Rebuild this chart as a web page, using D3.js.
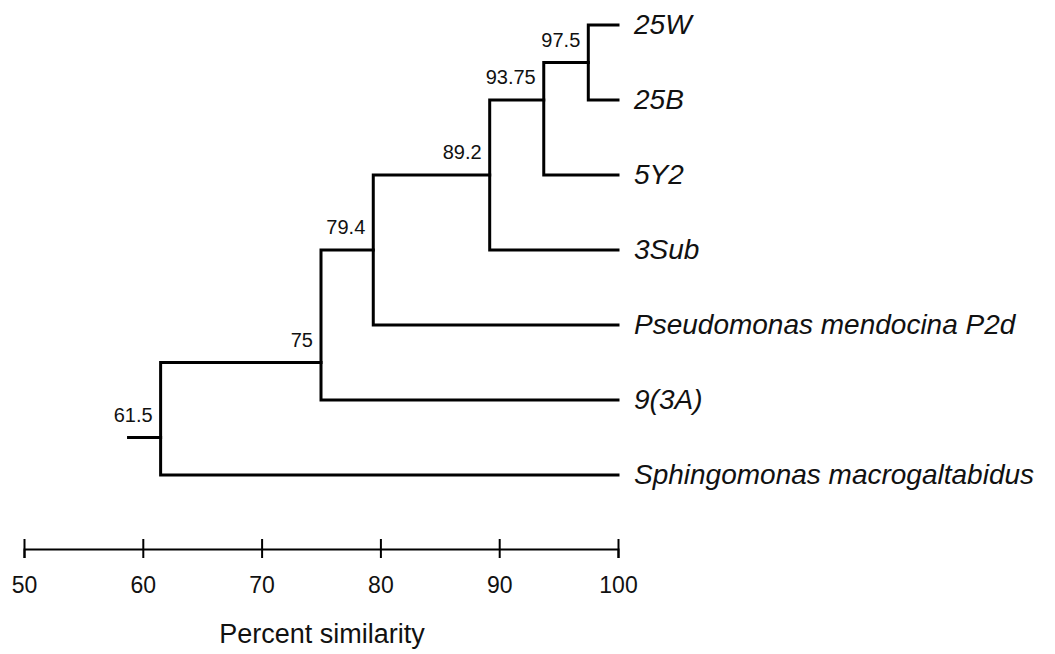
<!DOCTYPE html>
<html>
<head>
<meta charset="utf-8">
<script src="https://cdn.jsdelivr.net/npm/d3@7"></script>
<style>
  body { margin: 0; background: #fff; }
  text { font-family: Arial, "Liberation Sans", sans-serif; fill: #111; }
</style>
</head>
<body>
<div id="container"></div>
<script>
const width = 1055;
const height = 654;

// leaves, top to bottom
const leafNames = ["25W", "25B", "5Y2", "3Sub", "Pseudomonas mendocina P2d", "9(3A)", "Sphingomonas macrogaltabidus"];
// internal nodes: similarity, the two children ("L" leaf index / "N" node index), row where it joins its parent
const nodeSimilarity = [97.5, 93.75, 89.2, 79.4, 75, 61.5];
const nodeChildren = [["L0", "L1"], ["N0", "L2"], ["N1", "L3"], ["N2", "L4"], ["N3", "L5"], ["N4", "L6"]];
const nodeRow = [0.5, 1, 2, 3, 4.5, 5.5];
const rootStub = 58.8;
const tickValues = [50, 60, 70, 80, 90, 100];

const x = d3.scaleLinear().domain([50, 100]).range([24, 618]);
const y = d3.scaleLinear().domain([0, leafNames.length - 1]).range([25, 475]);

const svg = d3.select("#container")
  .append("svg")
  .attr("width", width)
  .attr("height", height);

// position of a child (leaf or node)
function pos(ref) {
  const i = +ref.slice(1);
  if (ref[0] === "L") return { sim: 100, row: i };
  return { sim: nodeSimilarity[i], row: nodeRow[i] };
}

const tree = svg.append("g")
  .attr("fill", "none")
  .attr("stroke", "#000")
  .attr("stroke-width", 3)
  .attr("stroke-linecap", "square");

nodeSimilarity.forEach((s, i) => {
  const a = pos(nodeChildren[i][0]);
  const b = pos(nodeChildren[i][1]);
  const path = d3.path();
  path.moveTo(x(a.sim), y(a.row));
  path.lineTo(x(s), y(a.row));
  path.lineTo(x(s), y(b.row));
  path.lineTo(x(b.sim), y(b.row));
  tree.append("path").attr("d", path.toString());
});

// root stub
const root = nodeSimilarity.length - 1;
tree.append("line")
  .attr("x1", x(rootStub))
  .attr("x2", x(nodeSimilarity[root]))
  .attr("y1", y(nodeRow[root]))
  .attr("y2", y(nodeRow[root]));

// node labels
svg.append("g").selectAll("text")
  .data(nodeSimilarity)
  .enter()
  .append("text")
  .attr("x", d => x(d) - 8)
  .attr("y", (d, i) => y(nodeRow[i]) - 23)
  .attr("dy", "0.35em")
  .attr("text-anchor", "end")
  .attr("font-size", 20)
  .text(d => d);

// leaf labels
svg.append("g").selectAll("text")
  .data(leafNames)
  .enter()
  .append("text")
  .attr("x", x(100) + 16)
  .attr("y", (d, i) => y(i) - 1)
  .attr("dy", "0.35em")
  .attr("font-size", 28)
  .attr("font-style", "italic")
  .text(d => d);

// scale bar
const axis = svg.append("g")
  .attr("transform", "translate(0,549)")
  .call(d3.axisBottom(x).tickValues(tickValues).tickSizeOuter(0).tickSize(9));

axis.select(".domain").attr("stroke-width", 2);
axis.selectAll(".tick line").attr("y1", -10).attr("y2", 9).attr("stroke-width", 2);
axis.selectAll(".tick text")
  .attr("y", 36)
  .attr("dy", "0.35em")
  .attr("font-size", 23)
  .attr("font-family", "Arial, 'Liberation Sans', sans-serif")
  .attr("fill", "#111");

svg.append("text")
  .attr("x", 322)
  .attr("y", 634)
  .attr("dy", "0.35em")
  .attr("text-anchor", "middle")
  .attr("font-size", 27)
  .text("Percent similarity");
</script>
</body>
</html>
